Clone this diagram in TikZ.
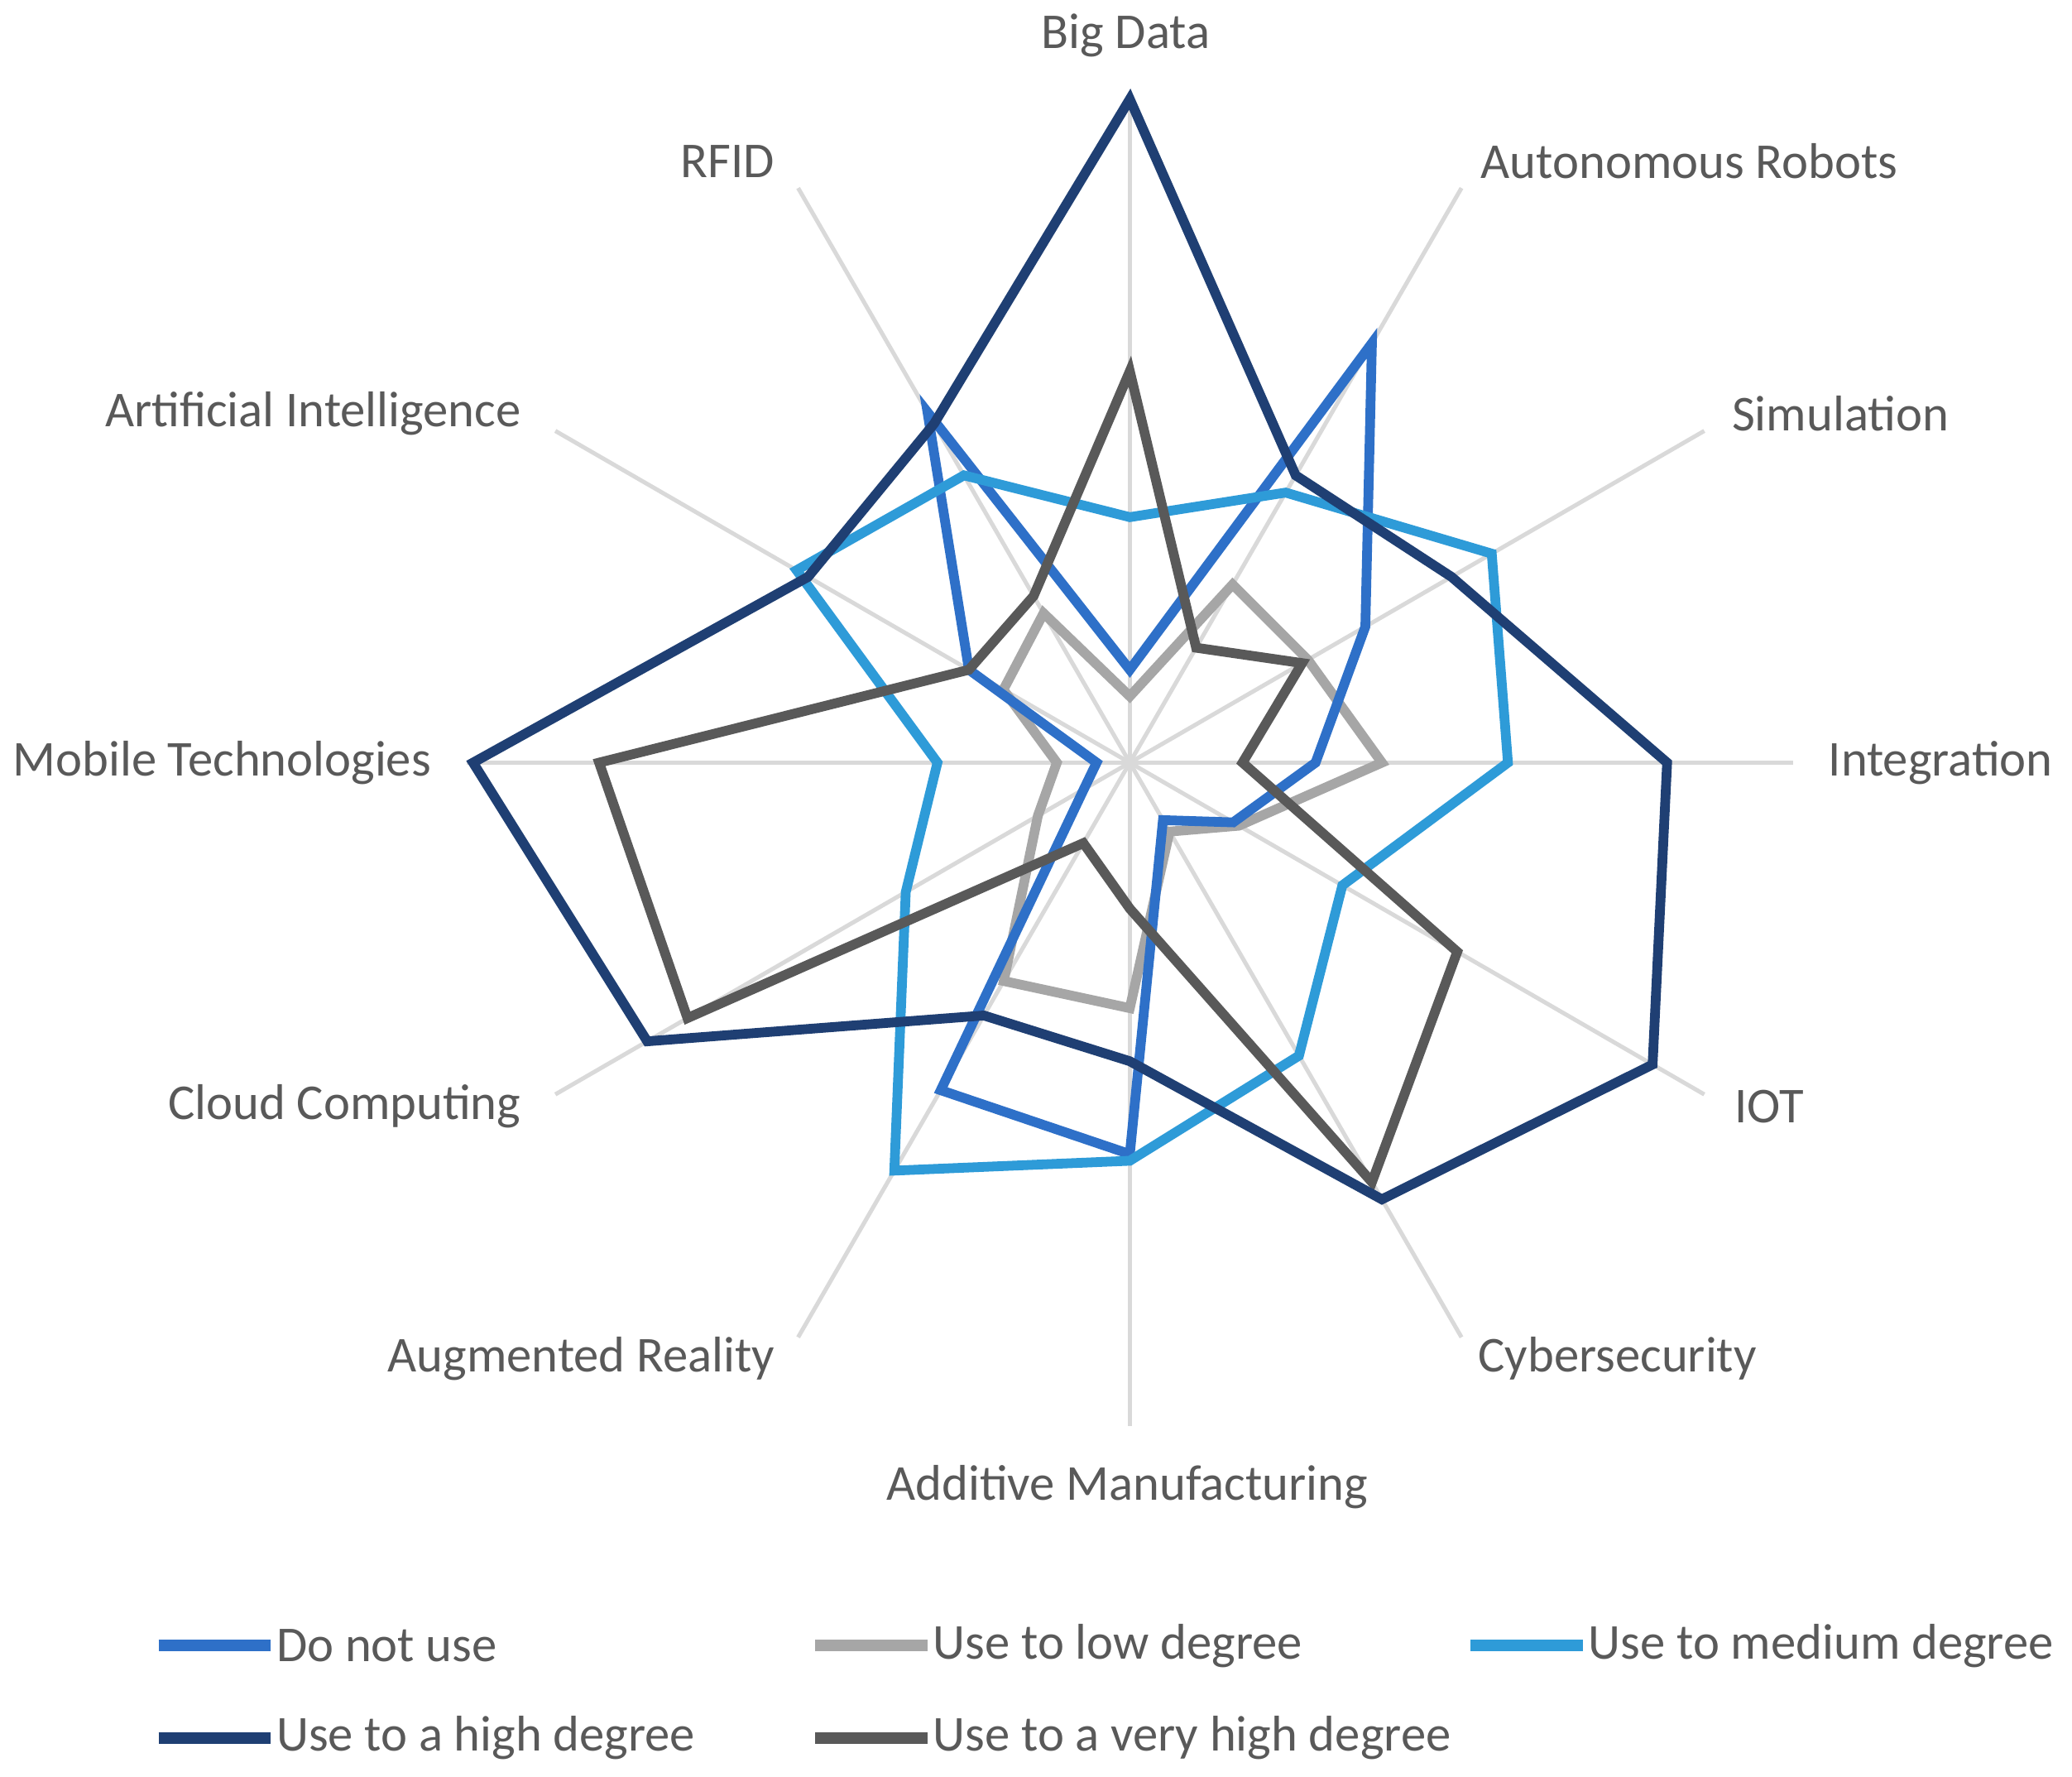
\documentclass[tikz,border=0pt]{standalone}
\usepackage{fontspec}
\setmainfont{Carlito}
\usetikzlibrary{positioning}
\definecolor{notUse}{RGB}{46,112,200}
\definecolor{lowDeg}{RGB}{166,166,166}
\definecolor{medDeg}{RGB}{46,155,216}
\definecolor{highDeg}{RGB}{31,63,115}
\definecolor{vhighDeg}{RGB}{89,89,89}
\definecolor{axisGray}{RGB}{217,217,217}
\definecolor{labelGray}{RGB}{89,89,89}
\tikzset{
  series/.style={line width=2.1pt},
  spoke/.style={axisGray,line width=0.9pt},
  axlabel/.style={labelGray,font=\fontsize{10.8}{13}\selectfont,inner sep=2pt},
  legline/.style={line width=2.4pt},
}
% one closed polygon of the radar chart
\newcommand\radarline[3]{%
  \draw[series,#1] (90:{502*#2}) \foreach \v [count=\i] in {#3}{ -- ({90-30*\i}:{502*\v}) } -- cycle;}
\begin{document}
\begin{tikzpicture}[x=0.01cm,y=0.01cm]
\useasboundingbox (-855,-767) rectangle (713,577);

% Spokes
\foreach \a in {0,30,...,330}
  \draw[spoke] (0,0) -- (\a:502);

% Axis labels
\node[axlabel] (bigdata) at (-3,550) {Big Data};
\node[axlabel,anchor=west] (robots) at (258,455) {Autonomous Robots};
\node[axlabel,anchor=west] (sim) at (448,264) {Simulation};
\node[axlabel,anchor=west] (integ) at (521,0) {Integration};
\node[axlabel,anchor=west] (iot) at (450,-260) {IOT};
\node[axlabel,anchor=west] (cyber) at (256,-451) {Cybersecurity};
\node[axlabel] (additive) at (-2,-548) {Additive Manufacturing};
\node[axlabel,anchor=east] (ar) at (-261,-451) {Augmented Reality};
\node[axlabel,anchor=east] (cloud) at (-453,-260) {Cloud Computing};
\node[axlabel,anchor=east] (mobile) at (-521,0) {Mobile Technologies};
\node[axlabel,anchor=east] (ai) at (-453,264) {Artificial Intelligence};
\node[axlabel,anchor=east] (rfid) at (-261,455) {RFID};

% Series
\radarline{lowDeg}{0.10}{0.31,0.31,0.38,0.19,0.12,0.37,0.38,0.16,0.11,0.22,0.26}
\radarline{notUse}{0.14}{0.73,0.41,0.28,0.18,0.10,0.59,0.57,0.08,0.05,0.28,0.61}
\radarline{medDeg}{0.37}{0.47,0.63,0.57,0.37,0.51,0.60,0.71,0.39,0.29,0.58,0.50}
\radarline{vhighDeg}{0.59}{0.20,0.30,0.17,0.57,0.73,0.22,0.14,0.77,0.80,0.28,0.29}
\radarline{highDeg}{1.00}{0.50,0.56,0.81,0.91,0.76,0.45,0.44,0.84,0.99,0.56,0.59}

% Legend
\foreach \c/\t/\x/\y in {notUse/Do not use/-735/-668, lowDeg/Use to low degree/-238/-668,
    medDeg/Use to medium degree/258/-668, highDeg/Use to a high degree/-735/-738,
    vhighDeg/Use to a very high degree/-238/-738} {
  \coordinate (l\x\y) at (\x,\y);
  \draw[legline,\c] (l\x\y) -- ++(85,0) coordinate (r\x\y);
  \node[axlabel,anchor=west,inner sep=1pt] at (r\x\y) {\t};
}
\end{tikzpicture}
\end{document}
